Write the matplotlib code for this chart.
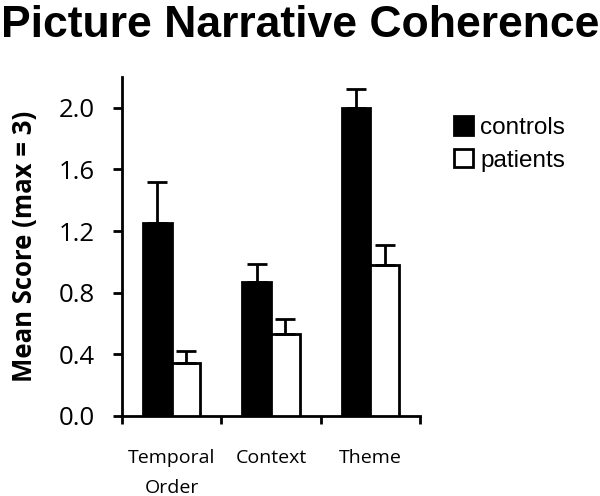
import matplotlib
matplotlib.use("Agg")
import matplotlib.pyplot as plt
import numpy as np

categories = ["Temporal\nOrder", "Context", "Theme"]
series_names = ["controls", "patients"]
controls = [1.25, 0.87, 2.00]
controls_err = [0.27, 0.115, 0.12]
patients = [0.345, 0.53, 0.98]
patients_err = [0.075, 0.10, 0.13]
yticks = [0.0, 0.4, 0.8, 1.2, 1.6, 2.0]

fig = plt.figure(figsize=(6, 4.96), dpi=100)
ax = fig.add_axes([0.2033, 0.1613, 0.4967, 0.6835])

x = np.arange(len(categories))
w = 0.29
lw = 2.0
ax.bar(x - w/2, controls, w, color="black", edgecolor="black", linewidth=lw,
       yerr=[np.zeros(3), controls_err], error_kw=dict(ecolor="black", elinewidth=lw, capsize=7.5, capthick=lw),
       label=series_names[0], zorder=3)
ax.bar(x + w/2, patients, w, color="white", edgecolor="black", linewidth=lw,
       yerr=[np.zeros(3), patients_err], error_kw=dict(ecolor="black", elinewidth=lw, capsize=7.5, capthick=lw),
       label=series_names[1], zorder=3)

ax.set_xlim(-0.5, 2.5)
ax.set_ylim(0, 2.2)
ax.spines["top"].set_visible(False)
ax.spines["right"].set_visible(False)
for s in ("left", "bottom"):
    ax.spines[s].set_linewidth(lw)
ax.set_yticks(yticks)
ax.set_yticklabels([f"{v:.1f}" for v in yticks], fontfamily="Open Sans", fontsize=18.5)
ax.tick_params(axis="y", length=6.5, width=lw, pad=13)
ax.set_xticks([-0.5, 0.5, 1.5, 2.5])
ax.set_xticklabels([])
ax.tick_params(axis="x", which="major", length=6, width=lw)
ax.set_xticks(x, minor=True)
ax.set_xticklabels(categories, minor=True, fontfamily="Open Sans", fontsize=14, linespacing=1.85)
ax.tick_params(axis="x", which="minor", length=0, pad=24)

ax.set_ylabel("Mean Score (max = 3)", fontfamily="Open Sans", fontweight="bold", fontsize=18.5, labelpad=15)

fig.text(0.5, 0.99, "Picture Narrative Coherence", ha="center", va="top",
         fontfamily="Liberation Sans", fontweight="bold", fontsize=32)

fig.legend(loc="upper left", bbox_to_anchor=(0.74, 0.785), frameon=False,
           prop=dict(family="Liberation Sans", size=17.5), handlelength=0.8, handleheight=0.8,
           handletextpad=0.3, labelspacing=0.4, borderaxespad=0)

fig.savefig("out.png", dpi=100)
